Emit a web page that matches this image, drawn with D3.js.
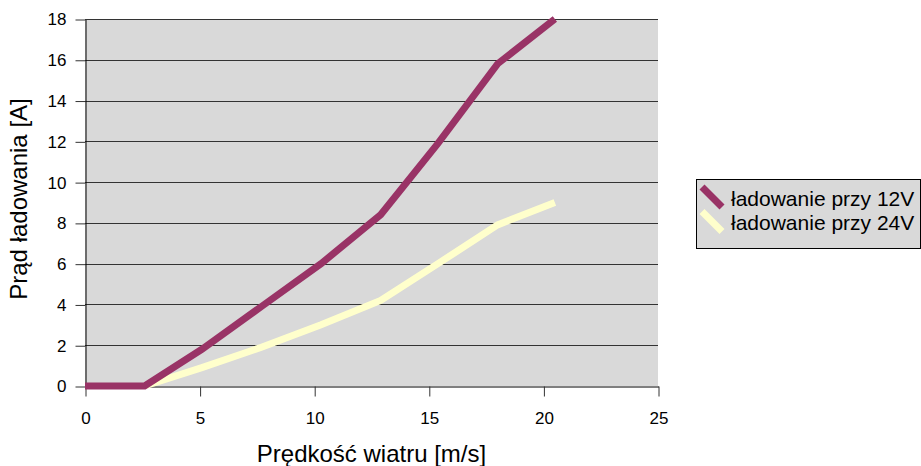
<!DOCTYPE html>
<html>
<head>
<meta charset="utf-8">
<script src="https://cdn.jsdelivr.net/npm/d3@7"></script>
<style>
  body { margin: 0; background: #fff; }
  text { font-family: "Liberation Sans", Arial, sans-serif; }
</style>
</head>
<body>
<script>
            // wind speed [m/s]
            var windSpeed = [0, 2.6, 5.1, 7.7, 10.3, 12.9, 15.4, 18.0, 20.5];
            // charging current [A]
            var charge12V = [0, 0, 1.8, 3.9, 6.0, 8.4, 11.9, 15.8, 18.0];
            var charge24V = [0, 0, 0.9, 1.9, 3.0, 4.2, 6.0, 7.9, 9.0];
            var seriesNames = ["ładowanie przy 12V", "ładowanie przy 24V"];
            var seriesColors = ["#993366", "#ffffcc"];
            var xTicks = [0, 5, 10, 15, 20, 25];
            var yTicks = [0, 2, 4, 6, 8, 10, 12, 14, 16, 18];

            //Width and height
            var w = 921;
            var h = 466;
            var plotLeft = 85, plotRight = 658, plotTop = 19, plotBottom = 386;

            var svg = d3.select("body")
                        .append("svg")
                        .attr("width", w)
                        .attr("height", h);

            var x = d3.scaleLinear().domain([0, 25]).range([plotLeft, plotRight]);
            var y = d3.scaleLinear().domain([0, 18]).range([plotBottom, plotTop]);

            //plot background
            svg.append("rect")
               .attr("x", plotLeft)
               .attr("y", plotTop)
               .attr("width", plotRight - plotLeft)
               .attr("height", plotBottom - plotTop)
               .attr("fill", "#d9d9d9");

            //gridlines
            svg.selectAll(".grid")
               .data(yTicks.filter(function(d) { return d > 0; }))
               .enter()
               .append("line")
               .attr("class", "grid")
               .attr("x1", plotLeft)
               .attr("x2", plotRight)
               .attr("y1", function(d) { return Math.round(y(d)) + 0.5; })
               .attr("y2", function(d) { return Math.round(y(d)) + 0.5; })
               .attr("stroke", "#333")
               .attr("stroke-width", 1);

            //y axis
            var yAxis = svg.append("g")
               .attr("transform", "translate(" + (plotLeft + 0.5) + ",0.5)")
               .call(d3.axisLeft(y).tickValues(yTicks).tickSize(10).tickPadding(9).tickSizeOuter(0));
            yAxis.selectAll("text").attr("font-size", 17).attr("fill", "#000")
               .style("font-family", "'Liberation Sans', Arial, sans-serif");
            yAxis.select(".domain").attr("stroke", "#000");
            yAxis.selectAll(".tick line").attr("stroke", "#333");

            //x axis
            var xAxis = svg.append("g")
               .attr("transform", "translate(0.5," + (plotBottom + 0.5) + ")")
               .call(d3.axisBottom(x).tickValues(xTicks).tickSize(10).tickPadding(15).tickSizeOuter(0));
            xAxis.selectAll("text").attr("font-size", 17).attr("fill", "#000")
               .style("font-family", "'Liberation Sans', Arial, sans-serif");
            xAxis.select(".domain").attr("stroke", "#000");
            xAxis.selectAll(".tick line").attr("stroke", "#333");

            //lines
            var line = d3.line()
               .x(function(d) { return x(d[0]); })
               .y(function(d) { return y(d[1]); });

            // 24V line starts once the current rises (hidden under 12V before)
            var data24 = windSpeed.map(function(v, i) { return [v, charge24V[i]]; }).slice(1);
            var data12 = windSpeed.map(function(v, i) { return [v, charge12V[i]]; });

            svg.append("path")
               .datum(data24)
               .attr("d", line)
               .attr("fill", "none")
               .attr("stroke", seriesColors[1])
               .attr("stroke-width", 7);

            svg.append("path")
               .datum(data12)
               .attr("d", line)
               .attr("fill", "none")
               .attr("stroke", seriesColors[0])
               .attr("stroke-width", 7);

            //axis titles
            svg.append("text")
               .attr("x", (plotLeft + plotRight) / 2)
               .attr("y", 462)
               .attr("text-anchor", "middle")
               .attr("font-size", 24)
               .text("Prędkość wiatru [m/s]");

            svg.append("text")
               .attr("transform", "translate(27,199) rotate(-90)")
               .attr("text-anchor", "middle")
               .attr("font-size", 24)
               .text("Prąd ładowania [A]");

            //legend
            var lg = svg.append("g");
            lg.append("rect")
               .attr("x", 696.5)
               .attr("y", 179.5)
               .attr("width", 224)
               .attr("height", 69)
               .attr("fill", "#d9d9d9")
               .attr("stroke", "#000");

            var items = lg.selectAll(".item")
               .data(seriesNames)
               .enter()
               .append("g")
               .attr("transform", function(d, i) { return "translate(0," + (i * 24.5) + ")"; });

            items.append("line")
               .attr("x1", 702).attr("y1", 187)
               .attr("x2", 722).attr("y2", 207)
               .attr("stroke", function(d, i) { return seriesColors[i]; })
               .attr("stroke-width", 7);

            items.append("text")
               .attr("x", 731)
               .attr("y", 205.5)
               .attr("font-size", 21)
               .text(function(d) { return d; });
</script>
</body>
</html>
